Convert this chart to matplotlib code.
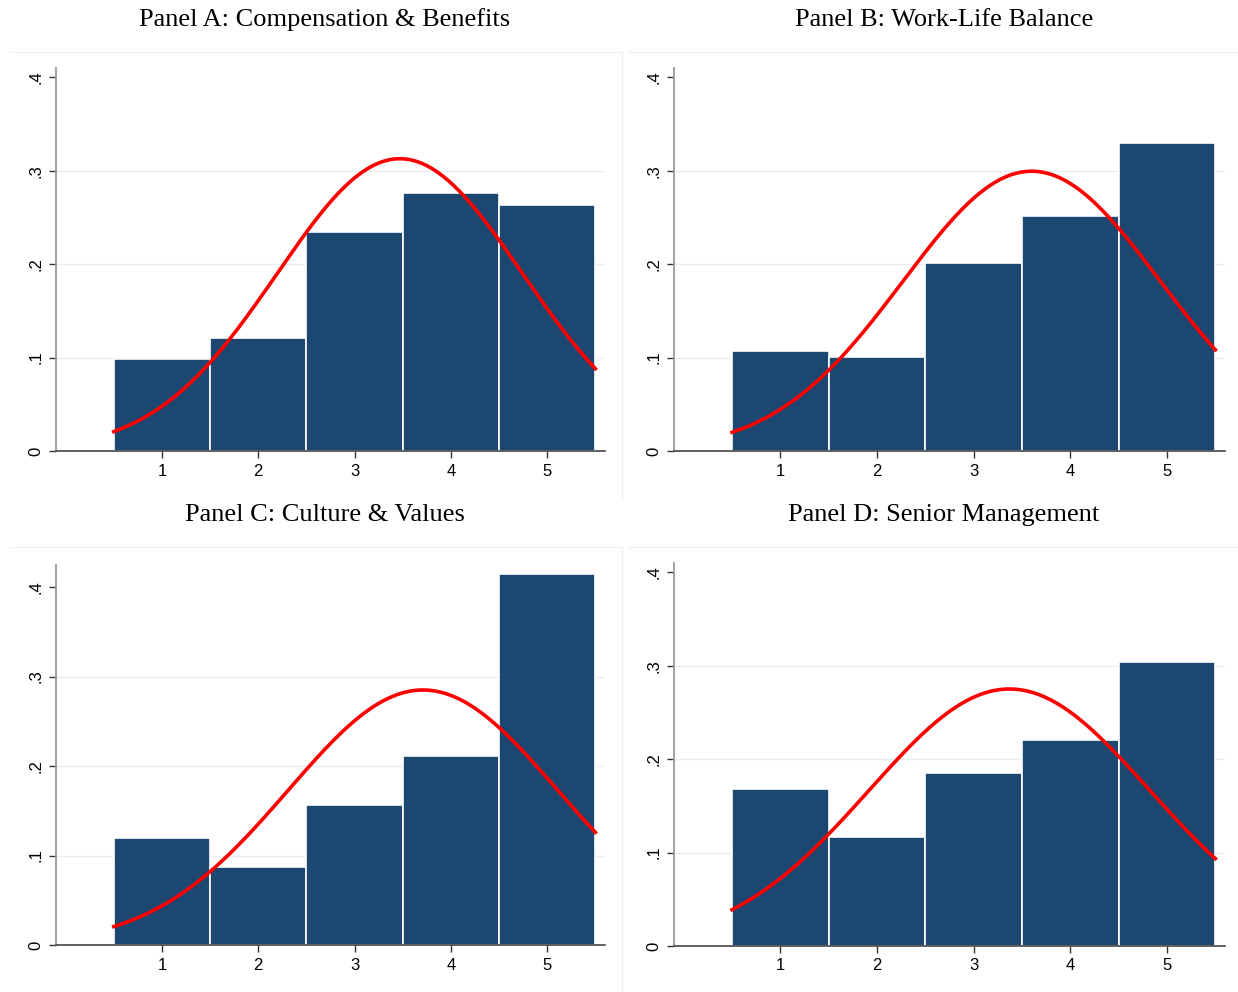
# -*- coding: utf-8 -*-
import numpy as np
import matplotlib
matplotlib.use('Agg')
import matplotlib.pyplot as plt
from matplotlib.lines import Line2D

# rating categories (1-5 stars)
ratings = [1, 2, 3, 4, 5]

# histogram densities per panel
comp_benefits = [0.099, 0.121, 0.234, 0.276, 0.263]
work_life = [0.107, 0.1005, 0.201, 0.252, 0.330]
culture_values = [0.1195, 0.087, 0.156, 0.211, 0.4145]
senior_mgmt = [0.1686, 0.1168, 0.1854, 0.220, 0.3037]

# normal overlay (mean, sd) per panel
normal_params = [(3.47, 1.275), (3.60, 1.332), (3.71, 1.40), (3.37, 1.45)]

panel_titles = ['Panel A: Compensation & Benefits',
                'Panel B: Work-Life Balance',
                'Panel C: Culture & Values',
                'Panel D: Senior Management']

y_ticks = [0, 0.1, 0.2, 0.3, 0.4]
y_ticklabels = ['0', '.1', '.2', '.3', '.4']

BAR_COLOR = '#1c4770'
GRID_COLOR = '#e6eef0'
SEP_COLOR = '#eef1f3'

W, H = 1238, 992
fig = plt.figure(figsize=(W / 100, H / 100), dpi=100)


def px_box(left, top, right, bottom):
    """pixel box -> figure fraction rect"""
    return [left / W, 1 - bottom / H, (right - left) / W, (bottom - top) / H]


# axes boxes (pixels) and ylim tops
boxes = [(56, 68, 605, 451), (674, 68, 1225, 451),
         (56, 565, 605, 945), (674, 563, 1225, 946)]
ylim_tops = [0.41, 0.41, 0.4246, 0.41]
title_pos = [(325, 20), (944, 20), (325, 515), (944, 515)]
all_data = [comp_benefits, work_life, culture_values, senior_mgmt]

for i in range(4):
    ax = fig.add_axes(px_box(*boxes[i]))
    dens = all_data[i]
    ax.bar(ratings, dens, width=1.0, color=BAR_COLOR, edgecolor='white',
           linewidth=1.2, zorder=2)

    mu, sd = normal_params[i]
    xs = np.linspace(0.5, 5.5, 300)
    ys = np.exp(-0.5 * ((xs - mu) / sd) ** 2) / (sd * np.sqrt(2 * np.pi))
    ax.plot(xs, ys, color='red', linewidth=2.6, zorder=3)

    ax.set_xlim(-0.1, 5.6)
    ax.set_ylim(0, ylim_tops[i])
    ax.set_xticks(ratings)
    ax.set_yticks(y_ticks)
    ax.set_yticklabels(y_ticklabels, rotation=90, va='center')

    # gridlines at .1 .2 .3 only
    for g in y_ticks[1:4]:
        ax.axhline(g, color=GRID_COLOR, linewidth=1.0, zorder=1)

    for s in ['top', 'right']:
        ax.spines[s].set_visible(False)
    ax.spines['left'].set_color('#9a9a9a')
    ax.spines['left'].set_linewidth(1.3)
    ax.spines['bottom'].set_color('#444444')
    ax.spines['bottom'].set_linewidth(1.2)

    ax.tick_params(axis='both', direction='out', length=5, width=1.0,
                   color='#333333', labelsize=12, pad=4)
    for lab in ax.get_xticklabels() + ax.get_yticklabels():
        lab.set_family('Liberation Sans')
        lab.set_color('black')

    tx, ty = title_pos[i]
    fig.text(tx / W, 1 - ty / H, panel_titles[i], ha='center', va='center',
             fontsize=19, family='Liberation Serif', color='black')

# faint panel separators
seps = [((9, 621), (52, 52)), ((628, 1238), (52, 52)),
        ((9, 621), (547, 547)), ((628, 1238), (547, 547)),
        ((622, 622), (52, 497)), ((622, 622), (547, 992))]
for xs_, ys_ in seps:
    fig.add_artist(Line2D([x / W for x in xs_], [1 - y / H for y in ys_],
                          color=SEP_COLOR, linewidth=1.0))

fig.savefig('out.png', dpi=100, facecolor='white')
plt.close(fig)
